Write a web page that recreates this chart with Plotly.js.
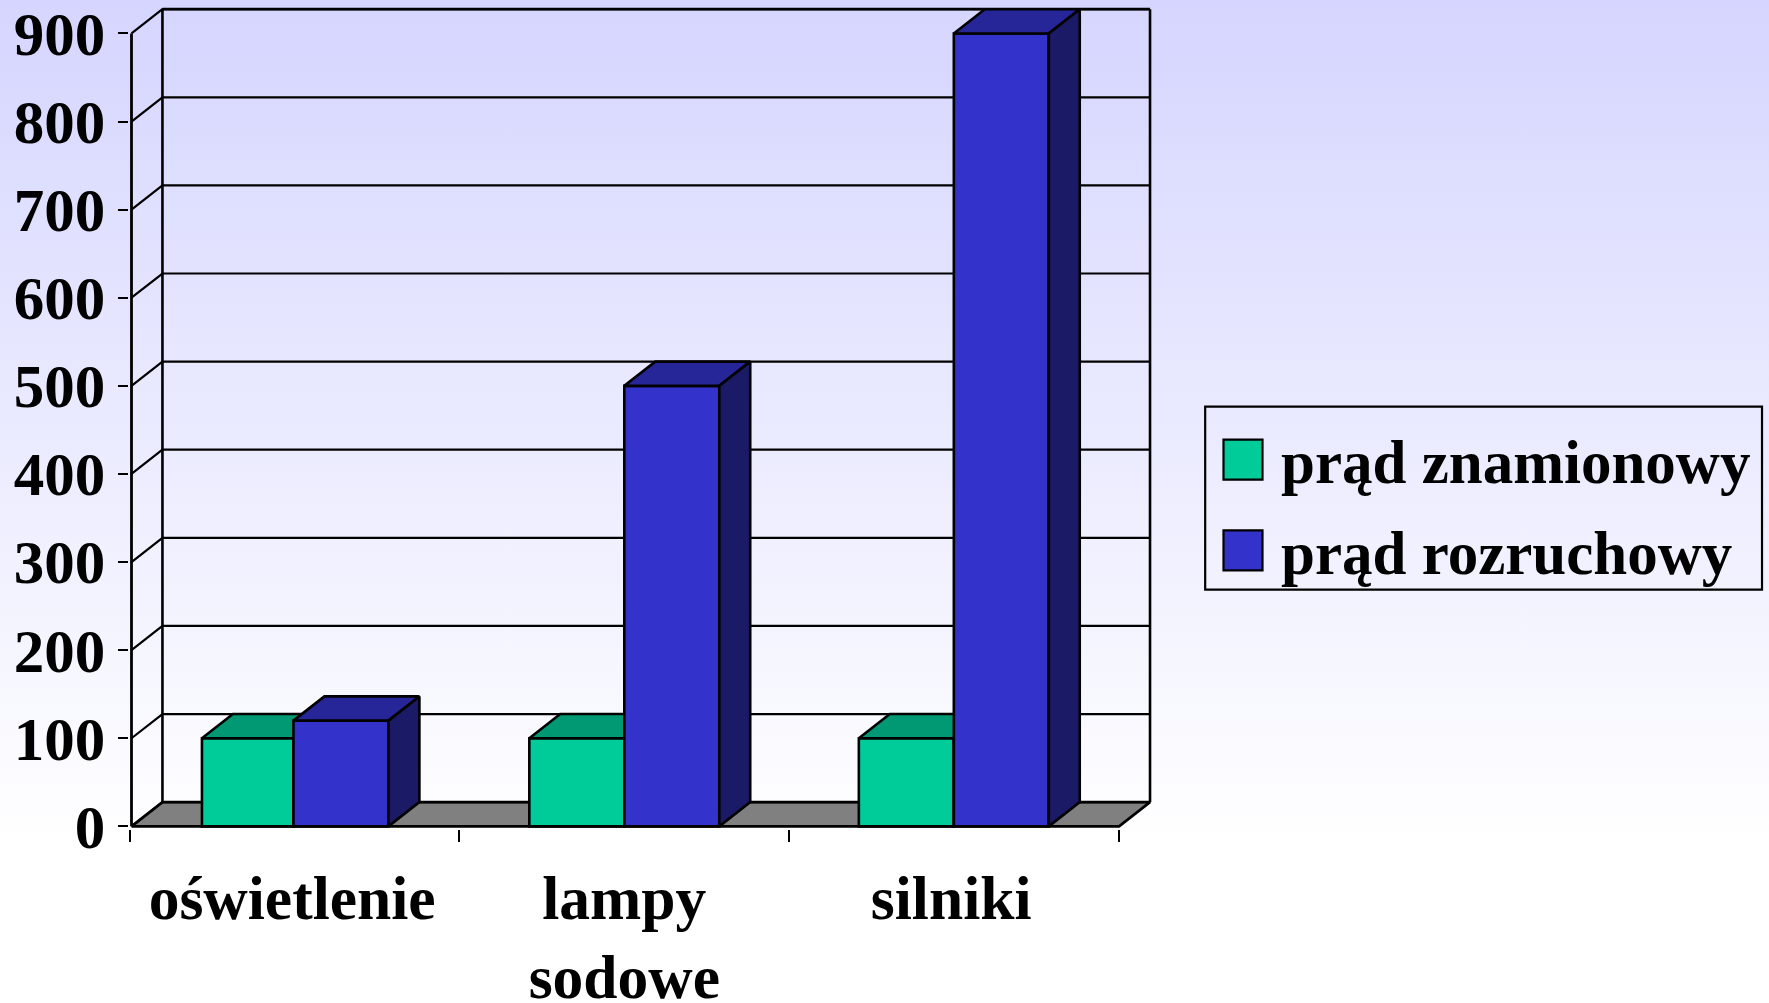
<!DOCTYPE html>
<html>
<head>
<meta charset="utf-8">
<script src="https://cdn.plot.ly/plotly-3.0.1.min.js"></script>
<style>
html,body{margin:0;padding:0;width:1769px;height:1003px;overflow:hidden;background:linear-gradient(180deg,#D5D5FF 0%,#FFFFFF 84%);}
#chart{width:1769px;height:1003px;}
</style>
</head>
<body>
<div id="chart"></div>
<script>
const categories = ['oświetlenie', 'lampy<br>sodowe', 'silniki'];
const seriesNames = ['prąd znamionowy', 'prąd rozruchowy'];
const ratedCurrent = [100, 100, 100];
const startingCurrent = [120, 500, 900];
const yTicks = [0, 100, 200, 300, 400, 500, 600, 700, 800, 900];
const groupPos = [-0.008, 0.997, 1.998];
const boundaryTicks = [-0.504, 0.496, 1.498, 2.5];
const labelPos = [-0.012, 0.997, 1.99];
const ratedWidth = [0.278, 0.2885, 0.2885];
const startingWidth = [0.2885, 0.2885, 0.2885];

const depthX = 0.094, depthY = 27.5;
const xL = -0.5, xR = 2.5;
const black = '#000000';
const font = (size) => ({family: '"Liberation Serif","Times New Roman",serif', size, color: black, weight: 'bold'});

function poly(xs, ys, fill, xa, ya) {
  return {x: xs, y: ys, xaxis: xa, yaxis: ya, type: 'scatter', mode: 'lines', fill: 'toself', fillcolor: fill,
    line: {color: black, width: 2.6}, showlegend: false, hoverinfo: 'skip', cliponaxis: false};
}
function line(xs, ys, width) {
  return {x: xs, y: ys, xaxis: 'x', yaxis: 'y', type: 'scatter', mode: 'lines', connectgaps: false,
    line: {color: black, width}, showlegend: false, hoverinfo: 'skip', cliponaxis: false};
}

const traces = [];
traces.push(poly([xL, xL + depthX, xR + depthX, xR, xL], [0, depthY, depthY, 0, 0], '#808080', 'x', 'y'));
const gx = [], gy = [];
yTicks.forEach(v => { gx.push(xL, xL + depthX, xR + depthX, null); gy.push(v, v + depthY, v + depthY, null); });
traces.push(line(gx, gy, 2.2));
traces.push(line([xL, xL], [0, 900], 2.8));
traces.push(line([xL + depthX, xL + depthX], [depthY, 900 + depthY], 2.6));
traces.push(line([xR + depthX, xR + depthX], [depthY, 900 + depthY], 2.6));
traces.push(line([xL + depthX, xR + depthX], [900 + depthY, 900 + depthY], 2.8));

function addSeries(vals, widths, toLeft, front, top, side, name, xa, ya, group) {
  const offsets = widths.map(w => toLeft ? -w : 0);
  traces.push({type: 'bar', x: groupPos, y: vals, width: widths, offset: offsets, xaxis: xa, yaxis: ya, name,
    legendgroup: group, marker: {color: front, line: {color: black, width: 2.6}}, hoverinfo: 'skip', cliponaxis: false});
  groupPos.forEach((p, i) => {
    const a = p + offsets[i], b = a + widths[i], v = vals[i];
    traces.push(poly([a, a + depthX, b + depthX, b, a], [v, v + depthY, v + depthY, v, v], top, xa, ya));
    traces.push(poly([b, b + depthX, b + depthX, b, b], [0, depthY, v + depthY, v, 0], side, xa, ya));
  });
}
addSeries(ratedCurrent, ratedWidth, true, '#00CC99', '#009973', '#006B50', seriesNames[0], 'x2', 'y2', 'a');
addSeries(startingCurrent, startingWidth, false, '#3333CC', '#262699', '#1A1A66', seriesNames[1], 'x3', 'y3', 'b');

const xRange = [-0.5076, 2.6], yRange = [-3, 930];
const W = 1023.3, H = 822, left = 128.5, bottom = 829.34;
const layout = {
  width: 1769, height: 1003, autosize: false,
  margin: {l: left, r: 617.2, t: 7.34, b: 1003 - bottom, pad: 0, autoexpand: false},
  paper_bgcolor: 'rgba(0,0,0,0)', plot_bgcolor: 'rgba(0,0,0,0)',
  barmode: 'overlay',
  xaxis: {range: xRange, tickmode: 'array', tickvals: boundaryTicks, ticktext: ['', '', '', ''], ticks: 'outside',
    ticklen: 11.5, tickwidth: 2.4, tickcolor: black, showgrid: false, zeroline: false, showline: false, fixedrange: true},
  yaxis: {range: yRange, tickmode: 'array', tickvals: yTicks, ticktext: yTicks.map(String), ticks: 'outside',
    ticklen: 10.5, tickwidth: 2.4, tickcolor: black, tickfont: font(61), ticklabelstandoff: 0,
    showgrid: false, zeroline: false, showline: false, fixedrange: true},
  xaxis2: {range: xRange, overlaying: 'x', anchor: 'y2', tickmode: 'array', tickvals: labelPos, ticktext: categories,
    ticks: '', tickfont: font(61.5), ticklabelstandoff: 27, showgrid: false, zeroline: false, showline: false, fixedrange: true},
  yaxis2: {range: yRange, overlaying: 'y', anchor: 'x2', visible: false, fixedrange: true},
  xaxis3: {range: xRange, overlaying: 'x', anchor: 'y3', visible: false, fixedrange: true},
  yaxis3: {range: yRange, overlaying: 'y', anchor: 'x3', visible: false, fixedrange: true},
  showlegend: true,
  legend: {xref: 'container', yref: 'container', x: 1205 / 1769, xanchor: 'left', y: 1 - 413.5 / 1003, yanchor: 'top',
    font: font(61), bgcolor: 'rgba(0,0,0,0)', borderwidth: 0, itemwidth: 66, tracegroupgap: 8.5, traceorder: 'grouped',
    itemclick: false, itemdoubleclick: false},
  shapes: [{type: 'rect', xref: 'paper', yref: 'paper', layer: 'below',
    x0: (1205 - left) / W, x1: (1762 - left) / W,
    y0: (bottom - 590) / H, y1: (bottom - 407) / H,
    line: {color: black, width: 2.2}, fillcolor: 'rgba(0,0,0,0)'}]
};

Plotly.newPlot('chart', traces, layout, {displayModeBar: false}).then(() => {
  document.querySelectorAll('.legendpoints path').forEach(p => {
    p.setAttribute('d', 'M19.5,20H-19.5V-20H19.5Z');
    p.style.strokeWidth = '2.2px';
    p.style.stroke = black;
  });
});
</script>
</body>
</html>
